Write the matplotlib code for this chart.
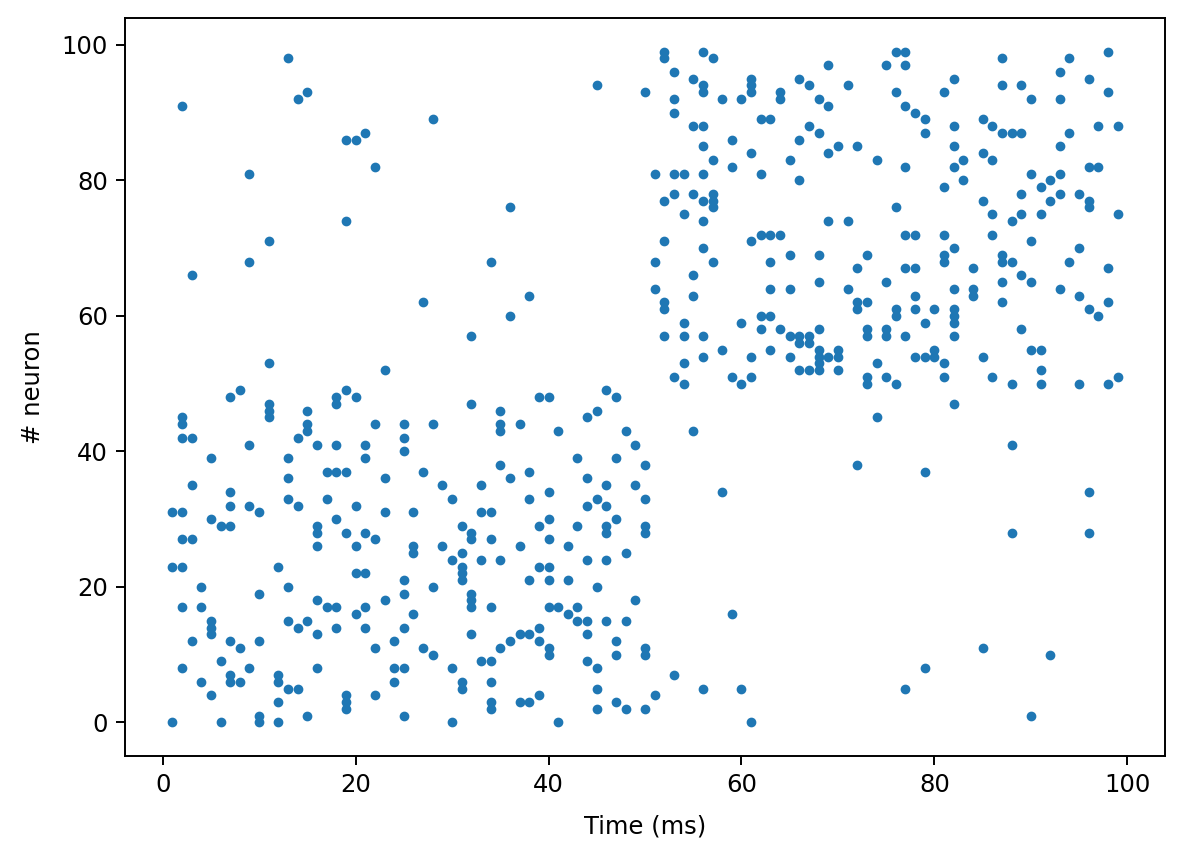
import numpy as np
import matplotlib
matplotlib.use("Agg")
import matplotlib.pyplot as plt

early_low = [
    (1,0),(6,0),(10,0),(10,1),(12,0),(15,1),(12,3),(19,2),(19,3),(19,4),(22,4),(24,6),(24,8),
    (5,4),(4,6),(7,6),(7,7),(8,6),(12,6),(12,7),(13,5),(14,5),(2,8),(6,9),(9,8),(16,8),(3,12),
    (7,12),(8,11),(10,12),(5,13),(5,14),(5,15),(13,15),(14,14),(15,15),(16,13),(18,14),(21,14),
    (22,11),(24,12),(2,17),(4,17),(4,20),(10,19),(13,20),(12,23),(1,23),(2,23),(16,18),(17,17),
    (18,17),(20,16),(21,17),(23,18),(20,22),(21,22),(16,26),(20,26),(2,27),(3,27),(22,27),
    (25,1),(30,0),(41,0),(34,2),(34,3),(37,3),(38,3),(39,4),(45,2),(47,3),(48,2),(50,2),(51,4),
    (45,5),(25,8),(30,8),(31,6),(31,5),(34,6),(33,9),(34,9),(44,9),(45,8),(27,11),(28,10),
    (35,11),(36,12),(37,13),(38,13),(39,14),(39,12),(40,11),(40,10),(44,13),(47,12),(47,10),
    (50,11),(50,10),(32,13),(25,14),(26,16),(25,19),(25,21),(28,20),(32,17),(32,18),(32,19),
    (34,17),(40,17),(41,17),(42,16),(43,17),(43,15),(44,15),(46,15),(48,15),(49,18),(45,20),
    (38,21),(40,21),(42,21),(39,23),(40,23),(44,24),(46,24),(48,25),(30,24),(31,25),(31,23),
    (31,22),(31,21),(33,24),(35,24),(26,25),(26,26),(29,26),(37,26),(42,26),
    (23,52),(8,49),(7,48),(11,47),(11,46),(11,45),(2,45),(2,44),(2,42),(3,42),(5,39),(9,41),
    (3,35),(7,34),(7,32),(9,32),(10,31),(1,31),(2,31),(5,30),(6,29),(7,29),(15,46),(15,44),
    (15,43),(14,42),(18,48),(18,47),(19,49),(20,48),(22,44),(16,41),(18,41),(21,41),(21,39),
    (13,39),(17,37),(18,37),(19,37),(13,36),(23,36),(13,33),(14,32),(17,33),(20,32),(23,31),
    (18,30),(16,29),(16,28),(19,28),(21,28),
    (25,44),(25,42),(25,40),(28,44),(32,47),(35,46),(35,44),(35,43),(37,44),(39,48),(40,48),
    (41,43),(44,45),(45,46),(46,49),(47,48),(48,43),(49,41),(27,37),(29,35),(30,33),(33,35),
    (35,38),(36,36),(38,37),(38,33),(43,39),(47,39),(50,38),(40,34),(44,36),(46,35),(49,35),
    (45,33),(50,33),(44,32),(46,32),(47,30),(26,31),(33,31),(34,31),(31,29),(32,28),(32,27),
    (34,27),(39,29),(40,30),(40,27),(43,29),(46,29),(46,28),(50,29),(50,28),
]
early_high = [
    (13,98),(2,91),(14,92),(15,93),(28,89),(19,86),(20,86),(21,87),(22,82),(45,94),(9,81),
    (36,76),(19,74),(11,71),(9,68),(3,66),(34,68),(38,63),(27,62),(36,60),(32,57),(11,53),
]
late_high = [
    (54,75),(56,74),(69,74),(71,74),(62,72),(63,72),(64,72),(61,71),(52,71),(56,70),(51,68),
    (57,68),(63,68),(65,69),(68,69),(73,69),(72,67),(55,66),(51,64),(55,63),(63,64),(65,64),
    (68,65),(71,64),(75,65),(52,62),(52,61),(72,62),(73,62),(72,61),(54,59),(60,59),(62,60),
    (63,60),(62,58),(64,58),(68,58),(73,58),(73,57),(75,58),(75,57),(52,57),(54,57),(56,57),
    (65,57),(66,57),(67,57),(66,56),(67,56),(68,55),(68,54),(68,53),(68,52),(69,54),(70,55),
    (70,54),(70,52),(66,52),(67,52),(65,54),(63,55),(61,54),(58,55),(56,54),(54,53),(53,51),
    (54,50),(59,51),(60,50),(61,51),(74,53),(73,51),(73,50),(75,51),
    (76,76),(86,75),(88,74),(89,75),(91,75),(96,76),(99,75),(77,72),(78,72),(81,72),(86,72),
    (90,71),(82,70),(81,69),(81,68),(87,69),(87,68),(88,68),(95,70),(94,68),(98,67),(77,67),
    (78,67),(84,67),(82,64),(84,64),(84,63),(87,65),(89,66),(90,65),(93,64),(95,63),(98,62),
    (96,61),(97,60),(87,62),(78,63),(76,61),(76,60),(78,61),(80,61),(82,61),(82,60),(82,59),
    (79,59),(77,57),(82,57),(89,58),(90,55),(91,55),(80,55),(80,54),(78,54),(79,54),(81,53),
    (85,54),(91,52),(76,50),(81,51),(86,51),(88,50),(91,50),(95,50),(98,50),(99,51),
    (52,99),(52,98),(56,99),(57,98),(53,96),(55,95),(56,94),(56,93),(50,93),(53,92),(53,90),
    (58,92),(60,92),(61,95),(61,94),(61,93),(64,93),(64,92),(62,89),(63,89),(66,95),(67,94),
    (69,97),(71,94),(68,92),(69,91),(75,97),(55,88),(56,88),(56,85),(59,86),(57,83),(59,82),
    (61,84),(62,81),(65,83),(66,86),(67,88),(68,87),(69,84),(70,85),(72,85),(74,83),(66,80),
    (51,81),(53,81),(54,81),(56,81),(53,78),(52,77),(55,78),(56,77),(57,78),(57,77),(57,76),
    (76,99),(77,99),(77,97),(87,98),(94,98),(98,99),(93,96),(96,95),(98,93),(82,95),(81,93),
    (87,94),(89,94),(90,92),(93,92),(76,93),(77,91),(78,90),(79,89),(79,87),(82,88),(85,89),
    (86,88),(87,87),(88,87),(89,87),(94,87),(97,88),(99,88),(93,85),(82,85),(85,84),(86,83),
    (83,83),(77,82),(82,82),(83,80),(81,79),(90,81),(93,81),(92,80),(91,79),(96,82),(97,82),
    (89,78),(93,78),(92,77),(95,78),(96,77),(85,77),
]
late_low = [
    (82,47),(74,45),(55,43),(58,34),(72,38),(79,37),(88,41),(96,34),(88,28),(96,28),(59,16),
    (85,11),(92,10),(53,7),(79,8),(56,5),(60,5),(77,5),(61,0),(90,1),
]

spikes = np.array(early_low + early_high + late_high + late_low)
times, neurons = spikes[:, 0], spikes[:, 1]

fig = plt.figure(figsize=(1185/175, 858/175), dpi=175)
fig.subplots_adjust(left=0.1055, right=0.9831, bottom=0.1189, top=0.979)
ax = fig.add_subplot(111)
ax.plot(times, neurons, '.', color='C0')
ax.set_xlabel('Time (ms)', labelpad=7)
ax.set_ylabel('# neuron', labelpad=7)

fig.savefig("out.png", dpi=175)
